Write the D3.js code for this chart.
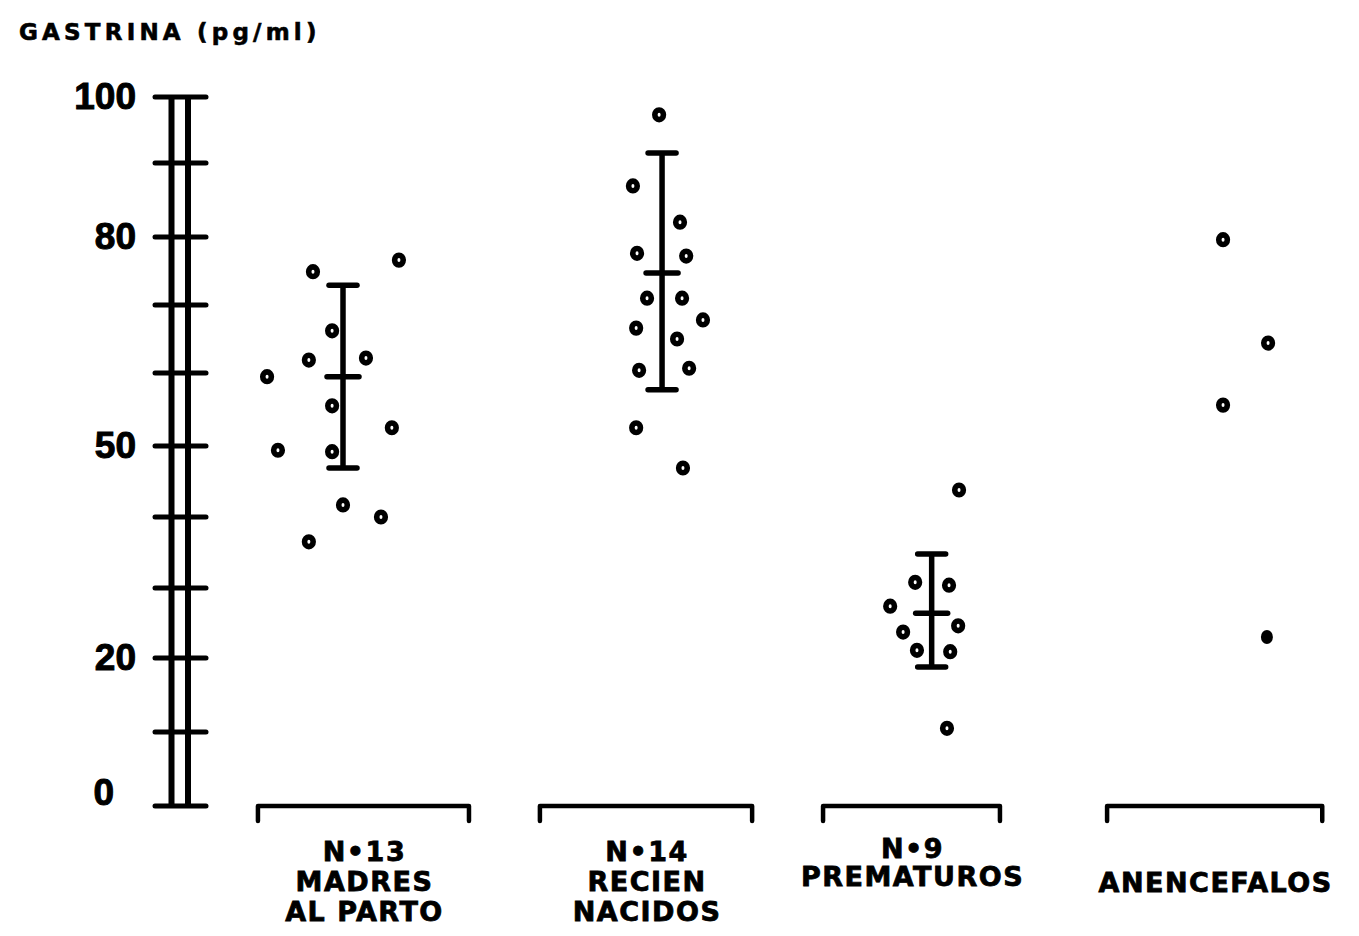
<!DOCTYPE html>
<html>
<head>
<meta charset="utf-8">
<script src="https://cdn.jsdelivr.net/npm/d3@7"></script>
<style>
  html, body { margin: 0; padding: 0; background: #fff; }
  svg { display: block; }
</style>
</head>
<body>
<svg id="chart" width="1359" height="936"></svg>
<script>
// ---------------- DATA ----------------
const categories = ["MADRES AL PARTO", "RECIEN NACIDOS", "PREMATUROS", "ANENCEFALOS"];
const labelLines = [
  ["N\u202213", "MADRES", "AL PARTO"],
  ["N\u202214", "RECIEN", "NACIDOS"],
  ["N\u20229", "PREMATUROS"],
  ["ANENCEFALOS"]
];
const yAxisTitle = "GASTRINA (pg/ml)";
const tickValues = [0, 10, 20, 30, 40, 50, 60, 70, 80, 90, 100];
const tickLabels = [100, 80, 50, 20, 0];

// gastrin values (pg/ml) per group, with horizontal jitter (category units)
const madresValues  = [74.9, 76.6, 66.2, 61.9, 62.2, 59.5, 55.5, 52.5, 49.4, 49.2, 41.7, 40.0, 36.5];
const madresJitter  = [-0.102, 0.190, -0.037, -0.116, 0.078, -0.258, -0.037, 0.166, -0.221, -0.037, 0.000, 0.129, -0.116];
const recienValues  = [97.3, 86.9, 82.0, 77.6, 77.2, 71.0, 71.0, 67.8, 66.6, 65.0, 60.4, 60.7, 52.5, 46.9];
const recienJitter  = [-0.010, -0.099, 0.061, -0.085, 0.082, -0.051, 0.068, 0.139, -0.088, 0.051, -0.078, 0.092, -0.088, 0.071];
const prematValues  = [43.8, 30.8, 30.4, 27.4, 23.7, 24.6, 21.1, 20.9, 10.5];
const prematJitter  = [0.093, -0.056, 0.059, -0.141, -0.097, 0.090, -0.050, 0.063, 0.052];
const anencValues   = [79.6, 64.4, 55.6, 23.0];
const anencJitter   = [-0.010, 0.143, -0.010, 0.139];
const anencFilled   = [false, false, false, true];

// mean and spread (error bars) for the first three groups
const meanValues  = [59.5, 74.7, 26.4];
const upperValues = [72.9, 91.5, 34.8];
const lowerValues = [46.9, 57.7, 18.8];

// category placement (category units)
const groupPos    = [1, 2.084, 3, 4];
const bracketFrom = [0.711, 1.669, 2.631, 3.596];
const bracketTo   = [1.428, 2.390, 3.232, 4.327];

// ---------------- CHART ----------------
const svg = d3.select("#chart");
const ink = "#000";

// hand-drawn axis: piecewise linear through its tick marks
const y = d3.scaleLinear()
  .domain(tickValues)
  .range([806, 732, 658, 588, 517, 446, 373, 305, 237, 163, 97]);
const x = d3.scaleLinear().domain([1, 4]).range([343, 1226]);

// title
svg.append("text")
  .attr("x", 19).attr("y", 40)
  .attr("font-family", "DejaVu Sans, sans-serif")
  .attr("font-weight", "bold")
  .attr("font-size", 23)
  .attr("letter-spacing", 4.2)
  .attr("fill", ink)
  .attr("stroke", ink).attr("stroke-width", 0.6)
  .text(yAxisTitle);

// double vertical axis
const axisG = svg.append("g");
[171.5, 188].forEach(xx => {
  axisG.append("line")
    .attr("x1", xx).attr("x2", xx)
    .attr("y1", y(0)).attr("y2", y(100))
    .attr("stroke", ink).attr("stroke-width", 6);
});
axisG.selectAll("line.tick").data(tickValues).join("line")
  .attr("class", "tick")
  .attr("x1", 155).attr("x2", 206)
  .attr("y1", d => y(d)).attr("y2", d => y(d))
  .attr("stroke", ink).attr("stroke-width", 5)
  .attr("stroke-linecap", "round");

axisG.selectAll("text.tl").data(tickLabels).join("text")
  .attr("class", "tl")
  .attr("x", d => d === 0 ? 114 : 136)
  .attr("y", d => y(d) + (d === 0 ? -1 : 12))
  .attr("text-anchor", "end")
  .attr("font-family", "Liberation Sans, Arial, sans-serif")
  .attr("font-weight", "bold")
  .attr("font-size", 37)
  .attr("fill", ink)
  .attr("stroke", ink).attr("stroke-width", 1)
  .text(d => d);

// error bars
const ebG = svg.append("g");
meanValues.forEach((m, i) => {
  const cx = x(groupPos[i]);
  ebG.append("line")
    .attr("x1", cx).attr("x2", cx)
    .attr("y1", y(upperValues[i])).attr("y2", y(lowerValues[i]))
    .attr("stroke", ink).attr("stroke-width", 5.5);
  [[upperValues[i], 14], [lowerValues[i], 14], [m, 16]].forEach(([v, hw]) => {
    ebG.append("line")
      .attr("x1", cx - hw).attr("x2", cx + hw)
      .attr("y1", y(v)).attr("y2", y(v))
      .attr("stroke", ink).attr("stroke-width", 5.5)
      .attr("stroke-linecap", "round");
  });
});

// points
const groups = [
  { values: madresValues, jitter: madresJitter },
  { values: recienValues, jitter: recienJitter },
  { values: prematValues, jitter: prematJitter },
  { values: anencValues,  jitter: anencJitter, filled: anencFilled }
];
const ptG = svg.append("g");
groups.forEach((g, gi) => {
  const pts = g.values.map((v, i) => ({
    v, j: g.jitter[i], filled: g.filled ? g.filled[i] : false
  }));
  ptG.selectAll(null).data(pts).join("ellipse")
    .attr("cx", d => x(groupPos[gi] + d.j))
    .attr("cy", d => y(d.v))
    .attr("rx", d => d.filled ? 6 : 4.3)
    .attr("ry", d => d.filled ? 7 : 4.8)
    .attr("fill", d => d.filled ? ink : "#fff")
    .attr("stroke", d => d.filled ? "none" : ink)
    .attr("stroke-width", 5.6);
});

// brackets under each group
const brG = svg.append("g");
categories.forEach((c, i) => {
  const x0 = x(bracketFrom[i]), x1 = x(bracketTo[i]);
  brG.append("path")
    .attr("d", `M${x0},821 L${x0},806 L${x1},806 L${x1},821`)
    .attr("fill", "none")
    .attr("stroke", ink).attr("stroke-width", 4.5)
    .attr("stroke-linejoin", "round")
    .attr("stroke-linecap", "round");
});

// category labels
const labelStart = [861, 861, 858, 892];
const labelStep  = [30, 30, 28, 30];
const lbG = svg.append("g");
labelLines.forEach((lines, i) => {
  const cx = (x(bracketFrom[i]) + x(bracketTo[i])) / 2;
  lines.forEach((t, k) => {
    lbG.append("text")
      .attr("x", cx + 1).attr("y", labelStart[i] + k * labelStep[i])
      .attr("text-anchor", "middle")
      .attr("font-family", "DejaVu Sans, sans-serif")
      .attr("font-weight", "bold")
      .attr("font-size", 27)
      .attr("letter-spacing", 1.5)
      .attr("fill", ink)
      .attr("stroke", ink).attr("stroke-width", 0.8)
      .text(t);
  });
});
</script>
</body>
</html>
